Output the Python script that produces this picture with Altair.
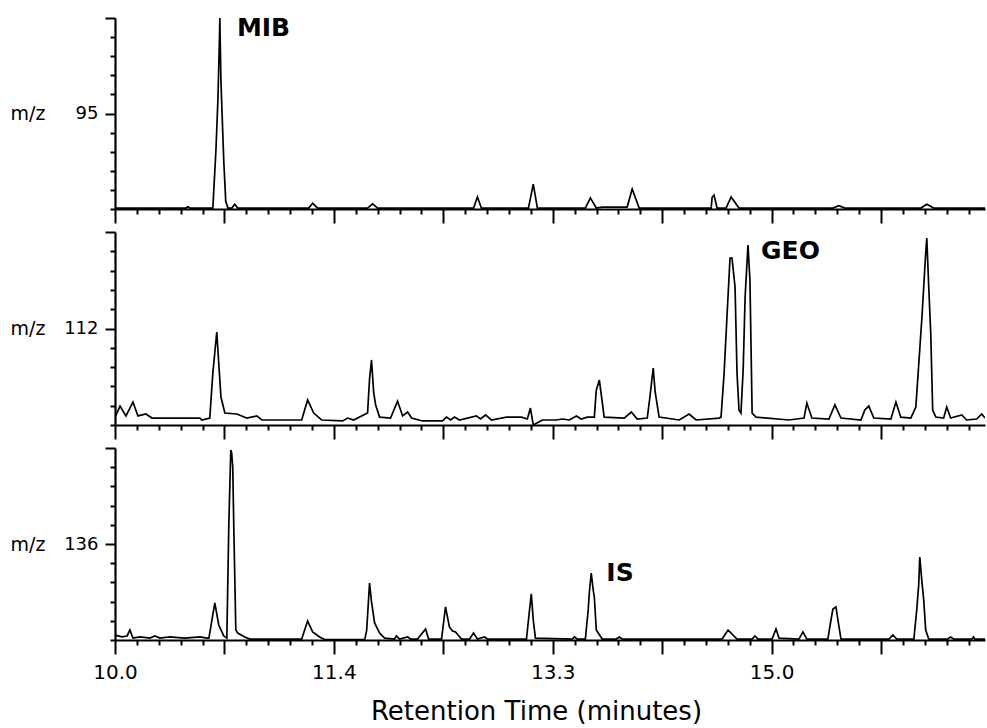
import altair as alt
import pandas as pd

FONT = "DejaVu Sans"

# x positions are in minor-tick units of the printed time axis
x_ticks = list(range(40))
tick_pos = [0, 10, 20, 30]
tick_lab = ["10.0", "11.4", "13.3", "15.0"]

ion_labels = ["95", "112", "136"]
peak_names = ["MIB", "GEO", "IS"]
peak_t = [5.57, 29.52, 22.45]
peak_y = [9.48, 9.02, 3.49]

# m/z 95 trace
p1_t = [0, 3.24, 3.33, 3.42, 4.47, 4.61, 4.70, 4.77, 4.79, 4.84,
        4.88, 4.97, 5.06, 5.16, 5.34, 5.47, 5.61, 8.85, 9.03, 9.26,
        11.54, 11.77, 12.00, 16.38, 16.56, 16.74, 18.89, 19.11, 19.30, 21.49,
        21.72, 21.99, 22.26, 23.14, 23.40, 23.63, 23.95, 27.24, 27.28, 27.37,
        27.51, 27.92, 28.15, 28.51, 32.80, 33.07, 33.35, 36.82, 37.09, 37.41,
        39.75]
p1_y = [0.05, 0.05, 0.12, 0.05, 0.05, 3.04, 5.65, 8.80, 10.0, 6.70,
        5.40, 2.50, 0.40, 0.05, 0.05, 0.25, 0.05, 0.05, 0.30, 0.05,
        0.05, 0.27, 0.05, 0.05, 0.63, 0.05, 0.05, 1.30, 0.05, 0.05,
        0.58, 0.05, 0.10, 0.10, 0.10, 1.05, 0.05, 0.05, 0.60, 0.73,
        0.05, 0.05, 0.63, 0.05, 0.05, 0.17, 0.05, 0.05, 0.25, 0.05,
        0.05]

# m/z 112 trace
p2_t = [0, 0.23, 0.50, 0.82, 1.05, 1.41, 1.69, 3.88, 3.97, 4.33,
        4.47, 4.65, 4.74, 4.84, 5.02, 5.57, 6.02, 6.48, 6.71, 8.53,
        8.80, 9.08, 9.44, 10.40, 10.63, 10.90, 11.54, 11.63, 11.72, 11.82,
        11.91, 12.09, 12.59, 12.91, 13.14, 13.37, 13.55, 14.05, 14.96, 15.15,
        15.33, 15.51, 15.74, 16.51, 16.70, 16.93, 17.20, 17.88, 18.57, 18.84,
        18.98, 19.11, 19.53, 20.16, 20.44, 20.76, 21.08, 21.30, 21.58, 21.90,
        21.99, 22.13, 22.22, 22.35, 23.27, 23.59, 23.86, 24.32, 24.45, 24.59,
        24.68, 24.86, 25.78, 26.23, 26.55, 27.60, 27.69, 27.83, 27.97, 28.10,
        28.19, 28.33, 28.42, 28.51, 28.60, 28.70, 28.79, 28.92, 29.01, 29.11,
        29.29, 30.79, 31.48, 31.61, 31.84, 32.62, 32.89, 33.17, 34.08, 34.26,
        34.44, 34.67, 35.45, 35.68, 35.90, 36.36, 36.59, 36.86, 36.95, 37.04,
        37.09, 37.18, 37.27, 37.36, 37.50, 37.86, 38.00, 38.18, 38.69, 38.91,
        39.37, 39.60, 39.75]
p2_y = [0.41, 0.98, 0.47, 1.19, 0.47, 0.57, 0.36, 0.36, 0.26, 0.36,
        2.69, 4.82, 3.21, 1.45, 0.62, 0.57, 0.36, 0.47, 0.26, 0.26,
        1.30, 0.62, 0.26, 0.21, 0.36, 0.26, 0.62, 2.38, 3.37, 1.66,
        1.04, 0.41, 0.36, 1.24, 0.47, 0.67, 0.36, 0.21, 0.21, 0.41,
        0.26, 0.41, 0.26, 0.47, 0.31, 0.52, 0.26, 0.41, 0.41, 0.31,
        0.88, 0.00, 0.26, 0.26, 0.31, 0.26, 0.47, 0.31, 0.41, 0.41,
        1.81, 2.33, 1.55, 0.41, 0.36, 0.67, 0.31, 0.36, 1.55, 2.95,
        1.71, 0.41, 0.26, 0.57, 0.26, 0.36, 0.41, 2.69, 5.80, 8.65,
        8.65, 7.15, 2.69, 0.78, 0.62, 2.85, 6.63, 9.33, 7.51, 0.62,
        0.41, 0.26, 0.36, 1.14, 0.36, 0.31, 1.04, 0.36, 0.26, 0.78,
        0.98, 0.36, 0.31, 1.19, 0.41, 0.36, 0.93, 5.44, 7.15, 8.91,
        9.69, 7.15, 4.77, 0.78, 0.41, 0.36, 0.93, 0.36, 0.52, 0.26,
        0.31, 0.57, 0.36]

# m/z 136 trace
p3_t = [0, 0.32, 0.55, 0.68, 0.82, 1.14, 1.60, 1.82, 2.05, 2.51,
        3.19, 3.88, 4.20, 4.29, 4.56, 4.74, 4.97, 5.11, 5.20, 5.29,
        5.33, 5.38, 5.43, 5.52, 5.61, 5.93, 6.16, 8.53, 8.80, 9.03,
        9.35, 9.58, 11.41, 11.50, 11.63, 11.72, 11.86, 12.09, 12.32, 12.77,
        12.86, 13.00, 13.37, 13.50, 13.82, 14.19, 14.33, 14.92, 15.10, 15.28,
        15.42, 15.56, 15.83, 16.20, 16.38, 16.56, 16.88, 17.02, 18.80, 18.93,
        19.02, 19.11, 19.21, 20.89, 21.00, 21.12, 21.49, 21.62, 21.67, 21.76,
        21.85, 21.90, 21.99, 22.26, 22.90, 23.04, 23.18, 27.74, 28.01, 28.42,
        29.11, 29.24, 29.38, 30.02, 30.20, 30.34, 31.25, 31.43, 31.61, 32.57,
        32.66, 32.80, 32.94, 33.08, 33.17, 35.36, 35.54, 35.72, 36.50, 36.63,
        36.72, 36.77, 36.86, 36.95, 37.04, 37.18, 38.05, 38.18, 38.32, 39.14,
        39.23, 39.28, 39.75]
p3_y = [0.26, 0.16, 0.21, 0.52, 0.10, 0.16, 0.10, 0.21, 0.10, 0.16,
        0.10, 0.16, 0.10, 0.10, 1.93, 0.78, 0.21, 0.10, 5.99, 9.90,
        9.75, 9.01, 5.73, 0.52, 0.36, 0.16, 0.05, 0.05, 0.99, 0.42,
        0.16, 0.02, 0.02, 0.52, 2.97, 1.98, 0.89, 0.36, 0.10, 0.05,
        0.21, 0.05, 0.16, 0.05, 0.05, 0.57, 0.05, 0.05, 1.72, 0.68,
        0.47, 0.42, 0.05, 0.05, 0.36, 0.05, 0.16, 0.05, 0.05, 1.46,
        2.40, 1.04, 0.10, 0.05, 0.16, 0.05, 0.05, 1.56, 2.45, 3.49,
        2.60, 2.24, 0.52, 0.05, 0.05, 0.16, 0.05, 0.05, 0.52, 0.05,
        0.05, 0.21, 0.05, 0.05, 0.57, 0.10, 0.05, 0.42, 0.05, 0.05,
        0.68, 1.61, 1.72, 0.68, 0.05, 0.05, 0.26, 0.05, 0.05, 1.56,
        2.86, 4.32, 3.13, 2.08, 0.52, 0.05, 0.05, 0.16, 0.05, 0.05,
        0.16, 0.05, 0.05]

traces = [(p1_t, p1_y), (p2_t, p2_y), (p3_t, p3_y)]
heights = [191, 193, 192]

lab_expr = " : ".join(f"datum.value == {p} ? '{l}'" for p, l in zip(tick_pos, tick_lab)) + " : ''"

X_TICK = {"condition": {"test": "datum.value % 5 === 0", "value": 14}, "value": 5}
Y_TICK = {"condition": {"test": "datum.value == 5 || datum.value == 10", "value": 10}, "value": 5}
X_LABSIZE = {"condition": {"test": "datum.value % 10 === 0", "value": 20}, "value": 0}
Y_LABSIZE = {"condition": {"test": "datum.value == 5", "value": 18}, "value": 0}


def panel(i):
    t, y = traces[i]
    h = heights[i]
    df = pd.DataFrame({"t": t, "y": y})
    bottom = i == 2
    if bottom:
        xaxis = alt.Axis(values=x_ticks, tickCount=200, tickSize=X_TICK, labelExpr=lab_expr,
                         labelFontSize=X_LABSIZE, labelPadding=8, labelOverlap=False,
                         labelFlush=False, title="Retention Time (minutes)",
                         titleFontSize=26, titleFontWeight="normal", titleX=421,
                         titleY=58, titleBaseline="top")
    else:
        xaxis = alt.Axis(values=x_ticks, tickCount=200, tickSize=X_TICK, labels=False, title=None)
    yaxis = alt.Axis(values=list(range(11)), tickCount=200, tickSize=Y_TICK,
                     labelExpr=f"datum.value == 5 ? '{ion_labels[i]}' : ''",
                     labelOverlap=False, labelFontSize=Y_LABSIZE, labelPadding=7, title="m/z",
                     titleAngle=0, titleAlign="left", titleBaseline="middle",
                     titleX=-105, titleY=h / 2, titleFontSize=19,
                     titleFontWeight="normal")
    xs = alt.Scale(domain=[0, 39.75], nice=False, zero=False)
    ys = alt.Scale(domain=[0, 10], nice=False)
    line = alt.Chart(df).mark_line(color="black", strokeWidth=1.7, clip=True).encode(
        x=alt.X("t:Q", scale=xs, axis=xaxis),
        y=alt.Y("y:Q", scale=ys, axis=yaxis),
    )
    ann = pd.DataFrame({"t": [peak_t[i]], "y": [peak_y[i]], "name": [peak_names[i]]})
    text = alt.Chart(ann).mark_text(font=FONT, fontSize=25, fontWeight="bold",
                                    align="left", baseline="middle", color="black").encode(
        x=alt.X("t:Q", scale=xs), y=alt.Y("y:Q", scale=ys), text="name:N")
    return alt.layer(line, text).properties(width=870, height=h)


chart = alt.vconcat(panel(0), panel(1), panel(2), spacing=7).properties(
    padding={"left": 10, "top": 15, "right": 2, "bottom": 0},
    background="white",
).configure_view(strokeWidth=0).configure_axis(
    grid=False, domainColor="black", domainWidth=2.2, tickColor="black",
    tickWidth=2, labelColor="black", titleColor="black", labelFont=FONT,
    titleFont=FONT,
)

chart.save("out.html", embed_options={"renderer": "svg", "actions": False})
